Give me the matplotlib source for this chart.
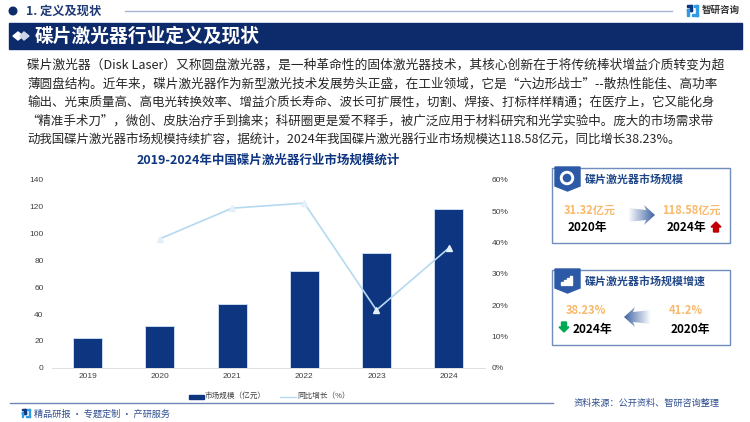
# 碟片激光器行业定义及现状
import numpy as np
import matplotlib
matplotlib.use('Agg')
import matplotlib.pyplot as plt
from matplotlib.patches import Polygon, Rectangle, Circle

plt.rcParams['font.family'] = ['Noto Sans CJK SC', 'DejaVu Sans']

years = ['2019', '2020', '2021', '2022', '2023', '2024']
market_size = [22.2, 31.32, 47.4, 72.3, 85.8, 118.58]
growth_years = ['2020', '2021', '2022', '2023', '2024']
growth_rate = [41.2, 51, 52.6, 18.4, 38.23]
size_ticks = [0, 20, 40, 60, 80, 100, 120, 140]
rate_ticks = [0, 10, 20, 30, 40, 50, 60]

body_lines = [
    '碟片激光器（Disk Laser）又称圆盘激光器，是一种革命性的固体激光器技术，其核心创新在于将传统棒状增益介质转变为超',
    '薄圆盘结构。近年来，碟片激光器作为新型激光技术发展势头正盛，在工业领域，它是“六边形战士”--散热性能佳、高功率',
    '输出、光束质量高、高电光转换效率、增益介质长寿命、波长可扩展性，切割、焊接、打标样样精通；在医疗上，它又能化身',
    '“精准手术刀”，微创、皮肤治疗手到擒来；科研圈更是爱不释手，被广泛应用于材料研究和光学实验中。庞大的市场需求带',
    '动我国碟片激光器市场规模持续扩容，据统计，2024年我国碟片激光器行业市场规模达118.58亿元，同比增长38.23%。',
]
body_y = [65, 84, 103, 121, 140]
body_x0 = [27, 27, 27, 26, 27]
body_x1 = [723, 715, 715, 715, 684]

NAVY = '#0d2a6b'
BAR = '#0d3580'
LINE = '#b5d9f0'
ORANGE = '#f9b96a'
EDGE = '#6f8dbd'
TITLE = '#1f4788'

fig = plt.figure(figsize=(7.5, 4.22), dpi=100)

# 整张图的装饰层，坐标直接用像素
bg = fig.add_axes([0, 0, 1, 1])
bg.set_xlim(0, 750)
bg.set_ylim(422, 0)
bg.axis('off')


def fit_text(t, x0, x1):
    # 按目标宽度调整字号，模拟两端对齐
    w = t.get_window_extent(fig.canvas.get_renderer()).width
    t.set_fontsize(t.get_fontsize() * (x1 - x0) / w)


def grad_arrow(x0, x1, y, c='#3f63a3'):
    # 渐变箭头，x0 为淡的一端，x1 为箭头尖
    d = 1 if x1 > x0 else -1
    neck = x1 - d * 9
    pts = [(x0, y - 7), (neck, y - 5), (neck - d * 2, y - 10), (x1, y),
           (neck - d * 2, y + 10), (neck, y + 5), (x0, y + 7)]
    rgb = matplotlib.colors.to_rgb(c)
    grad = np.zeros((2, 64, 4))
    grad[..., :3] = rgb
    grad[..., 3] = np.linspace(0, 1, 64) if d > 0 else np.linspace(1, 0, 64)
    im = bg.imshow(grad, extent=[min(x0, x1), max(x0, x1), y + 11, y - 11],
                   aspect='auto', zorder=3)
    im.set_clip_path(Polygon(pts, transform=bg.transData))
    bg.set_xlim(0, 750)
    bg.set_ylim(422, 0)


def logo(x, y, s, c1='#0d3580', c2='#2f9be0'):
    bg.add_patch(Rectangle((x, y), s * 0.45, s * 0.18, color=c1))
    bg.add_patch(Rectangle((x, y + s * 0.4), s * 0.45, s * 0.18, color=c1))
    bg.add_patch(Rectangle((x + s * 0.27, y), s * 0.18, s * 0.58, color=c1))
    bg.add_patch(Rectangle((x, y + s * 0.4), s * 0.18, s * 0.6, color=c2))
    bg.add_patch(Rectangle((x + s * 0.6, y), s * 0.4, s * 0.18, color=c2))
    bg.add_patch(Rectangle((x + s * 0.82, y), s * 0.18, s, color=c2))
    bg.add_patch(Rectangle((x + s * 0.45, y + s * 0.82), s * 0.55, s * 0.18, color=c2))


# 顶部
bg.add_patch(Circle((13, 11), 3.8, color=NAVY))
bg.text(26, 11, '1. 定义及现状', fontsize=8.8, fontweight='bold', color='#1f3a75', va='center')
bg.plot([125, 672], [10.5, 10.5], color='#a9b7d6', lw=1)
logo(687, 5, 11)
bg.text(702, 10, '智研咨询', fontsize=6.8, fontweight='bold', color='#333333', va='center')

bg.add_patch(Rectangle((9, 23), 733, 26, color=NAVY))
bg.add_patch(Polygon([(13, 36), (18, 32), (23, 36), (18, 40)], color='white'))
bg.add_patch(Polygon([(20, 36), (24, 32), (29, 36), (24, 40)], color='#cdd6e8'))
bg.text(35, 36, '碟片激光器行业定义及现状', fontsize=13.5, fontweight='bold', color='white', va='center')

# 正文
for line, y, x0, x1 in zip(body_lines, body_y, body_x0, body_x1):
    t = bg.text(x0, y, line, fontsize=8.9, color='#262626', va='center')
    fit_text(t, x0, x1)

bg.text(268, 160, '2019-2024年中国碟片激光器行业市场规模统计', fontsize=9, fontweight='bold',
        color=BAR, ha='center', va='center')

# 柱状图和折线图
ax = fig.add_axes([51.6 / 750, (422 - 367.7) / 422, 433.2 / 750, 187.7 / 422])
ax.patch.set_alpha(0)
x = np.arange(len(years))
ax.bar(x, market_size, width=0.4, color=BAR, edgecolor='#c9dcf0', linewidth=0.7, label='市场规模（亿元）')
ax.set_xlim(-0.5, 5.5)
ax.set_ylim(0, 140)
ax.set_yticks(size_ticks)
ax.set_xticks(x)
ax.set_xticklabels(years)
ax.tick_params(length=0, labelsize=6, labelcolor='#404040', pad=4)
ax.tick_params(axis='y', pad=5.7)
for s in ax.spines.values():
    s.set_visible(False)
ax.spines['bottom'].set_visible(True)
ax.spines['bottom'].set_color('#d9d9d9')
ax.spines['bottom'].set_linewidth(0.6)

ax2 = ax.twinx()
ax2.plot([years.index(y) for y in growth_years], growth_rate, color=LINE, lw=1.2, marker='^', ms=4,
         mfc='#e3f0fa', mec='#e3f0fa', label='同比增长（%）')
ax2.set_ylim(0, 60)
ax2.set_yticks(rate_ticks)
ax2.set_yticklabels([f'{v}%' for v in rate_ticks])
ax2.tick_params(length=0, labelsize=6, labelcolor='#404040', pad=5)
for s in ax2.spines.values():
    s.set_visible(False)

for t in ax.get_xticklabels() + ax.get_yticklabels() + ax2.get_yticklabels():
    t.set_fontfamily(['Liberation Sans', 'DejaVu Sans'])

# 图例
bg.add_patch(Rectangle((189, 394.5), 15, 4, color=BAR))
bg.text(205, 396, '市场规模（亿元）', fontsize=5.5, color='#404040', va='center')
bg.plot([280, 296], [396.5, 396.5], color=LINE, lw=1)
bg.text(297, 396, '同比增长（%）', fontsize=5.5, color='#404040', va='center')

# 右侧两个卡片
for top, title, icon in [(168, '碟片激光器市场规模', 'c'), (270, '碟片激光器市场规模增速', 'b')]:
    h = 75
    bg.add_patch(Rectangle((552, top), 178, h, fill=False, ec=EDGE, lw=1))
    bg.add_patch(Polygon([(555, top - 1), (580, top - 1), (580, top + 18), (567.5, top + 23), (555, top + 18)],
                         color='#2d5aa6', zorder=3))
    if icon == 'c':
        bg.add_patch(Circle((567, top + 10), 6.5, color='white', zorder=4))
        bg.add_patch(Circle((567, top + 10), 3.6, color='#2d5aa6', zorder=4))
    else:
        for i, v in enumerate([3, 5, 7, 9]):
            bg.add_patch(Rectangle((561 + i * 3, top + 15 - v), 2, v, color='white', zorder=4))
    bg.text(585, top + 11, title, fontsize=7.9, fontweight='bold', color=TITLE, va='center')

bg.text(590, 210, '31.32亿元', fontsize=8, fontweight='bold', color=ORANGE, ha='center', va='center')
bg.text(691, 210, '118.58亿元', fontsize=8, fontweight='bold', color=ORANGE, ha='center', va='center')
bg.text(587, 227, '2020年', fontsize=8.5, fontweight='bold', color='black', ha='center', va='center')
bg.text(686, 227, '2024年', fontsize=8.5, fontweight='bold', color='black', ha='center', va='center')
bg.text(586, 311, '38.23%', fontsize=8, fontweight='bold', color=ORANGE, ha='center', va='center')
bg.text(686, 311, '41.2%', fontsize=8, fontweight='bold', color=ORANGE, ha='center', va='center')
bg.text(592, 329, '2024年', fontsize=8.5, fontweight='bold', color='black', ha='center', va='center')
bg.text(690, 329, '2020年', fontsize=8.5, fontweight='bold', color='black', ha='center', va='center')

grad_arrow(628, 655, 215)
grad_arrow(651, 624, 317)

# 红色上箭头、绿色下箭头
bg.add_patch(Polygon([(716, 222), (721, 227), (718.5, 227), (718.5, 232), (713.5, 232), (713.5, 227), (711, 227)],
                     color='#c00000'))
bg.add_patch(Polygon([(564, 332), (559, 327), (561.5, 327), (561.5, 322), (566.5, 322), (566.5, 327), (569, 327)],
                     color='#00a84f'))

# 底部
bg.plot([10, 553], [403, 403], color='#6f85b5', lw=1)
logo(22, 409, 8)
bg.text(34, 414, '精品研报 · 专题定制 · 产研服务', fontsize=6.6, color='#2f4f8f', va='center')
bg.text(574, 403, '资料来源：公开资料、智研咨询整理', fontsize=6.6, color='#2f4f8f', va='center')

fig.savefig('out.png', dpi=100)
